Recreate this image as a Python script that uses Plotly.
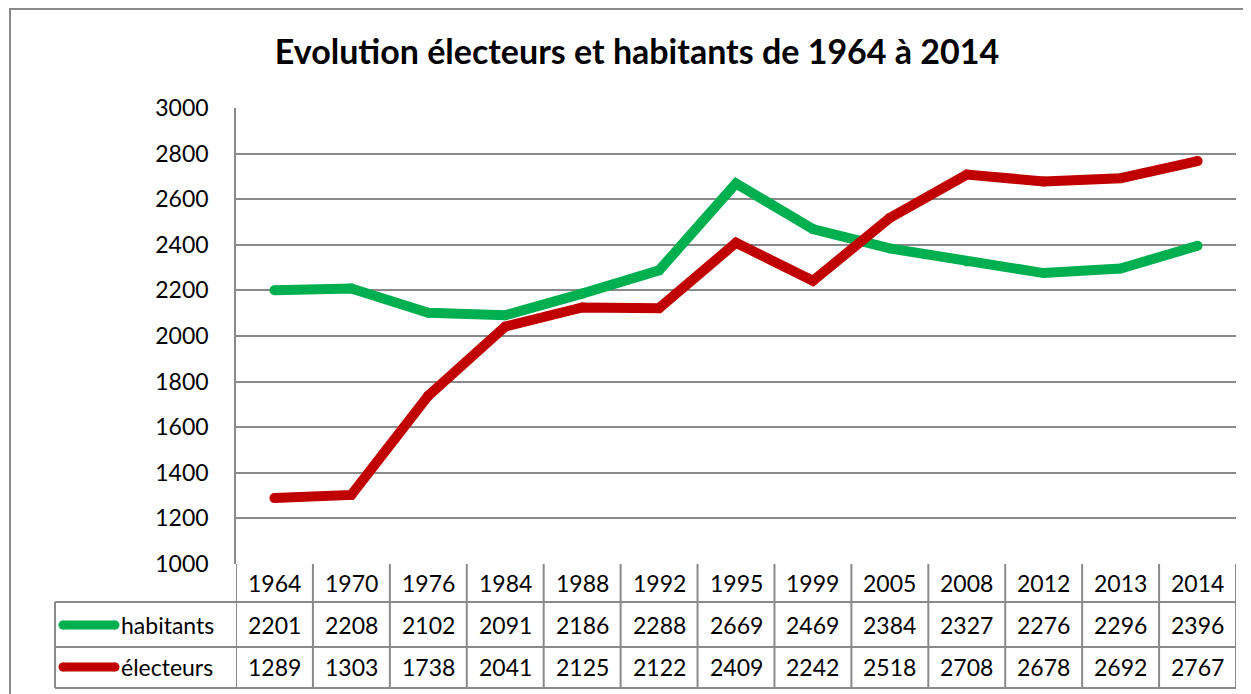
import plotly.graph_objects as go

# data
years = ['1964', '1970', '1976', '1984', '1988', '1992', '1995',
         '1999', '2005', '2008', '2012', '2013', '2014']
habitants = [2201, 2208, 2102, 2091, 2186, 2288, 2669, 2469, 2384, 2327, 2276, 2296, 2396]
electeurs = [1289, 1303, 1738, 2041, 2125, 2122, 2409, 2242, 2518, 2708, 2678, 2692, 2767]
series_names = ['habitants', 'électeurs']
series_colors = ['#00B050', '#C00000']

# the page puts the figure 8px in from the top-left corner
OFF = 8
W, H = 1251 - OFF, 694 - OFF
L, R, T, B = 236 - OFF, 15, 108 - OFF, 130
ph = H - T - B
pw = W - L - R
FONT = 'Lato'
GRID = '#8a8a8a'


def py(pix):
    # screen pixel row -> paper y
    return (H - B - (pix - OFF)) / ph


def px(pix):
    return (pix - OFF - L) / pw


fig = go.Figure()
for name, vals, col in zip(series_names, [habitants, electeurs], series_colors):
    # round markers give the rounded caps/joins of the original
    fig.add_trace(go.Scatter(x=years, y=vals, mode='lines+markers', name=name,
                             line=dict(color=col, width=10),
                             marker=dict(color=col, size=10, line=dict(width=0)),
                             showlegend=False))

shapes = []
annotations = []

# outer chart border
shapes.append(dict(type='rect', xref='paper', yref='paper', x0=px(10), x1=px(1300),
                   y0=py(760), y1=py(9), line=dict(color=GRID, width=2)))

# data table: horizontal lines
for yy in [602, 647, 688]:
    shapes.append(dict(type='line', xref='paper', yref='paper', x0=px(55), x1=1,
                       y0=py(yy), y1=py(yy), line=dict(color=GRID, width=2)))
# vertical lines at category borders
for k in range(len(years) + 1):
    shapes.append(dict(type='line', xref='x', yref='paper', x0=k - 0.5, x1=k - 0.5,
                       y0=py(564), y1=py(688), line=dict(color=GRID, width=2)))
shapes.append(dict(type='line', xref='paper', yref='paper', x0=px(55), x1=px(55),
                   y0=py(602), y1=py(688), line=dict(color=GRID, width=2)))

cell_font = dict(size=23, color='black', family=FONT)
row_y = [625, 667]
for i, yr in enumerate(years):
    annotations.append(dict(x=i, y=py(583), xref='x', yref='paper', text=yr,
                            yanchor='middle', showarrow=False, font=cell_font))
    for vals, ry in zip([habitants, electeurs], row_y):
        annotations.append(dict(x=i, y=py(ry), xref='x', yref='paper', text=str(vals[i]),
                                yanchor='middle', showarrow=False, font=cell_font))

# legend keys inside the table
for name, col, ry in zip(series_names, series_colors, row_y):
    shapes.append(dict(type='line', xref='paper', yref='paper', x0=px(63), x1=px(115),
                       y0=py(ry), y1=py(ry), line=dict(color=col, width=9)))
    for xx in (63, 115):
        shapes.append(dict(type='circle', xref='paper', yref='paper', xsizemode='pixel',
                           ysizemode='pixel', xanchor=px(xx), yanchor=py(ry),
                           x0=-4.5, x1=4.5, y0=-4.5, y1=4.5,
                           fillcolor=col, line=dict(width=0)))
    annotations.append(dict(x=px(119), y=py(ry), xref='paper', yref='paper', text=name,
                            xanchor='left', yanchor='middle', showarrow=False,
                            font=cell_font))

fig.update_layout(
    width=W, height=H,
    margin=dict(l=L, r=R, t=T, b=B),
    paper_bgcolor='white', plot_bgcolor='white',
    title=dict(text='<b>Evolution électeurs et habitants de 1964 à 2014</b>',
               x=(637 - OFF) / W, xanchor='center', y=1 - (52 - OFF) / H, yanchor='middle',
               font=dict(size=34, color='black', family=FONT)),
    xaxis=dict(type='category', range=[-0.5, len(years) - 0.5], showticklabels=False,
               showgrid=False, zeroline=False, showline=False),
    yaxis=dict(range=[1000, 3000], dtick=200, showgrid=True, gridcolor=GRID, gridwidth=1.5,
               zeroline=False, showline=True, linecolor=GRID, linewidth=1.5, ticks='',
               ticklabelstandoff=21, tickfont=cell_font),
    shapes=shapes, annotations=annotations,
)

fig.write_html('out.html')
